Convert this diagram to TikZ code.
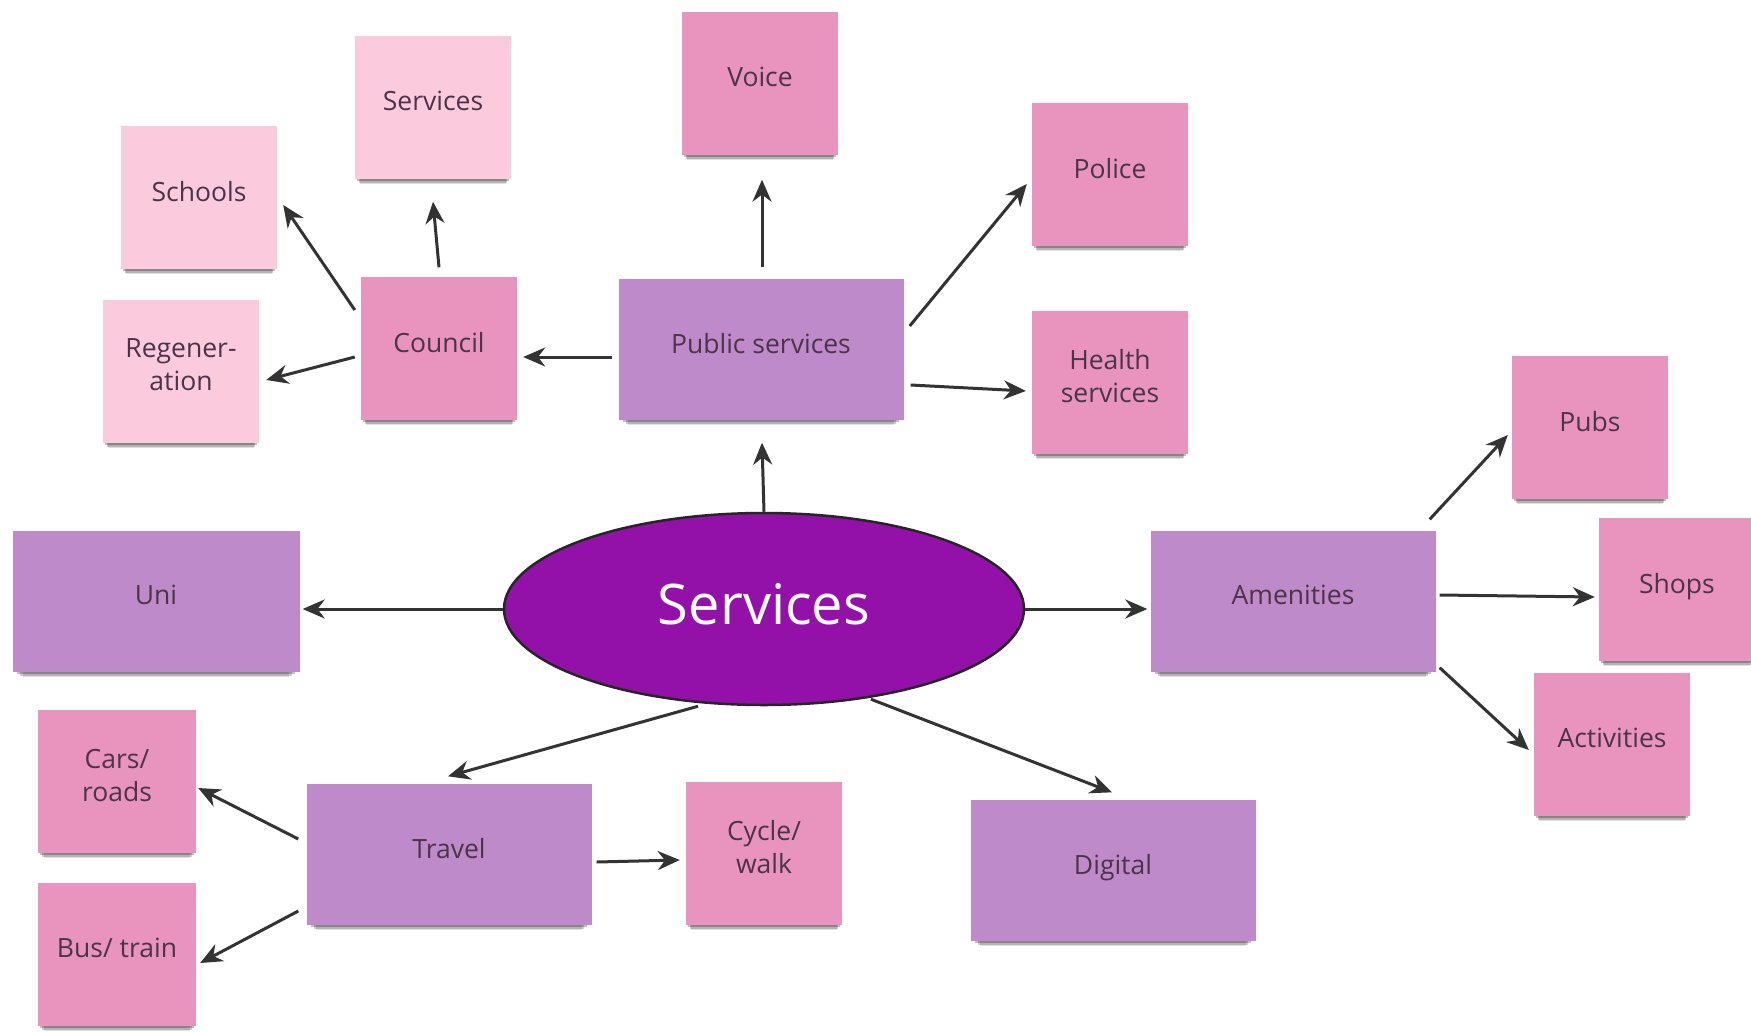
\documentclass[tikz,border=0pt]{standalone}
\usepackage{fontspec}
\setmainfont{Open Sans}
\usetikzlibrary{shapes.geometric,arrows.meta,shadows}
\definecolor{lpink}{HTML}{FBCADD}
\definecolor{mpink}{HTML}{E994BE}
\definecolor{lpurple}{HTML}{BF8AC9}
\definecolor{deeppurple}{HTML}{9411A9}
\definecolor{txt}{HTML}{4A3448}
\definecolor{arrowc}{HTML}{333333}
\tikzset{
  note/.style={rectangle, minimum width=156, minimum height=143, inner sep=0pt,
    text=txt, align=center, font=\fontsize{26.5pt}{33pt}\selectfont, text depth=12pt,
    drop shadow={shadow xshift=0pt, shadow yshift=-11pt, shadow scale=0.93, opacity=0.12, fill=black},
    drop shadow={shadow xshift=0pt, shadow yshift=-8pt, shadow scale=0.95, opacity=0.2, fill=black},
    drop shadow={shadow xshift=0pt, shadow yshift=-5pt, shadow scale=0.97, opacity=0.25, fill=black}},
  wide/.style={note, minimum width=285, minimum height=141},
  arr/.style={draw=arrowc, line width=3pt, -{Stealth[length=22pt,width=19pt]}}
}
\begin{document}
\begin{tikzpicture}[x=1pt,y=-1pt]
\useasboundingbox (0,0) rectangle (1751,1031);
\fill[white] (0,0) rectangle (1751,1031);

% nodes
\node[note, fill=lpink] (svc) at (433,107) {Services};
\node[note, fill=lpink] (schools) at (199,197) {Schools};
\node[note, fill=lpink] (regen) at (181,371) {Regener-\\ation};
\node[note, fill=mpink] (council) at (439,348) {Council};
\node[note, fill=mpink] (voice) at (760,83) {Voice};
\node[wide, fill=lpurple] (ps) at (761,349) {Public services};
\node[note, fill=mpink] (police) at (1110,174) {Police};
\node[note, fill=mpink] (health) at (1110,382) {Health\\services};
\node[note, fill=mpink] (pubs) at (1590,427) {Pubs};
\node[note, fill=mpink] (shops) at (1677,589) {Shops};
\node[note, fill=mpink] (act) at (1612,744) {Activities};
\node[wide, fill=lpurple] (amen) at (1293,601) {Amenities};
\node[wide, fill=lpurple, minimum width=287] (uni) at (156,601) {Uni};
\node[ellipse, fill=deeppurple, draw=black!85, line width=2.5pt, minimum width=520, minimum height=192,
  inner sep=0pt, text=white, text depth=10pt, font=\fontsize{56pt}{60pt}\selectfont] (ell) at (764,609) {Services};
\node[note, fill=mpink, minimum width=158] (cars) at (117,781) {Cars/\\roads};
\node[note, fill=mpink, minimum width=158] (bus) at (117,954) {Bus/ train};
\node[wide, fill=lpurple] (travel) at (449,854) {Travel};
\node[note, fill=mpink] (cycle) at (764,853) {Cycle/\\walk};
\node[wide, fill=lpurple] (digital) at (1113,870) {Digital};

% connectors
\draw[arr] ([shift={(-6,-38)}]council.west) -- ([shift={(6,8)}]schools.east);
\draw[arr] ([shift={(0,-9)}]council.north) -- ([shift={(0,23)}]svc.south);
\draw[arr] ([shift={(-6,9)}]council.west) -- ([shift={(7,9)}]regen.east);
\draw[arr] ([shift={(-6,8)}]ps.west) -- ([shift={(6,9)}]council.east);
\draw[arr] ([shift={(1,-11)}]ps.north) -- ([shift={(2,25)}]voice.south);
\draw[arr] ([shift={(6,-23)}]ps.east) -- ([shift={(-5,10)}]police.west);
\draw[arr] ([shift={(7,36)}]ps.east) -- ([shift={(-6,9)}]health.west);
\draw[arr] (ell.north) -- ([shift={(1,23)}]ps.south);
\draw[arr] (ell.west) -- ([shift={(3,8)}]uni.east);
\draw[arr] (ell.east) -- ([shift={(-3,8)}]amen.west);
\draw[arr] ([shift={(-66,0)}]ell.south) -- ([shift={(-1,-7)}]travel.north);
\draw[arr] ([shift={(107,-7)}]ell.south) -- ([shift={(-1,-7)}]digital.north);
\draw[arr] ([shift={(-6,-11)}]amen.north east) -- ([shift={(-4,8)}]pubs.west);
\draw[arr] ([shift={(4,-6)}]amen.east) -- ([shift={(-4,8)}]shops.west);
\draw[arr] ([shift={(4,-4)}]amen.south east) -- ([shift={(-5,6)}]act.west);
\draw[arr] ([shift={(-8,-15)}]travel.west) -- ([shift={(2,7)}]cars.east);
\draw[arr] ([shift={(-8,57)}]travel.west) -- ([shift={(4,9)}]bus.east);
\draw[arr] ([shift={(5,8)}]travel.east) -- ([shift={(-6,7)}]cycle.west);
\end{tikzpicture}
\end{document}
